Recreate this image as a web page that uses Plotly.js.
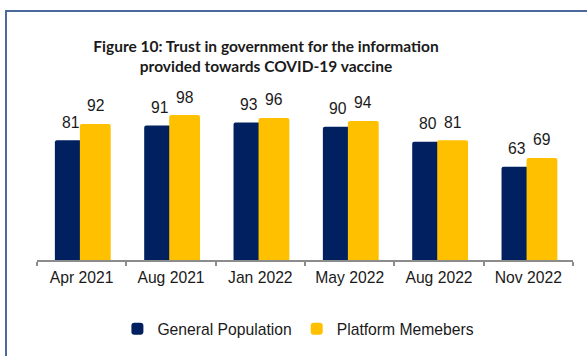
<!DOCTYPE html>
<html>
<head>
<meta charset="utf-8">
<script src="https://cdn.plot.ly/plotly-3.0.1.min.js"></script>
<style>
  html, body { margin: 0; padding: 0; background: #fff; }
  #chart { position: absolute; left: 0; top: 0; width: 587px; height: 356px; }
  #frame { position: absolute; left: 5px; top: 10px; width: 600px; height: 400px;
           border-left: 2px solid #4a6a9c; border-top: 2px solid #4a6a9c; pointer-events: none; }
</style>
</head>
<body>
<div id="chart"></div>
<div id="frame"></div>
<script>
const categories = ['Apr 2021', 'Aug 2021', 'Jan 2022', 'May 2022', 'Aug 2022', 'Nov 2022'];
const generalPopulation = [81, 91, 93, 90, 80, 63];
const platformMembers = [92, 98, 96, 94, 81, 69];
const seriesNames = ['General Population', 'Platform Memebers'];
const titleText = '<b>Figure 10: Trust in government for the information<br>provided towards COVID-19 vaccine</b>';

const NAVY = '#002060', GOLD = '#FFC000';
const barWidth = 0.345, navyOffset = -0.30, goldOffset = -0.02;
const labelFont = { family: 'Liberation Sans, Arial, sans-serif', size: 15.7, color: '#1a1a1a' };

const traces = [
  { type: 'bar', name: seriesNames[0], x: categories, y: generalPopulation,
    width: barWidth, offset: navyOffset, marker: { color: NAVY, cornerradius: 2 }, hoverinfo: 'none' },
  { type: 'bar', name: seriesNames[1], x: categories, y: platformMembers,
    width: barWidth, offset: goldOffset, marker: { color: GOLD, cornerradius: 2 }, hoverinfo: 'none' }
];

const annotations = [];
categories.forEach((c, i) => {
  annotations.push({ x: i + navyOffset + barWidth / 2, y: generalPopulation[i], xref: 'x', yref: 'y',
    text: String(generalPopulation[i]), showarrow: false, yanchor: 'middle', yshift: 18, font: labelFont });
  annotations.push({ x: i + goldOffset + barWidth / 2, y: platformMembers[i], xref: 'x', yref: 'y',
    text: String(platformMembers[i]), showarrow: false, yanchor: 'middle', yshift: 18, font: labelFont });
});

const layout = {
  width: 587, height: 356,
  margin: { l: 37, r: 14, t: 110, b: 96, pad: 0 },
  paper_bgcolor: 'rgba(0,0,0,0)', plot_bgcolor: 'rgba(0,0,0,0)',
  barmode: 'overlay',
  title: { text: titleText, xref: 'container', yref: 'container', x: 0.4532, xanchor: 'center',
           y: 0.855, yanchor: 'middle',
           font: { family: 'Lato, Calibri, sans-serif', size: 15.5, color: '#1a1a1a' } },
  xaxis: { type: 'category', range: [-0.5, 5.5], showline: true, linecolor: '#8c8c8c', linewidth: 2,
           ticks: 'outside', tickson: 'boundaries', ticklen: 4, tickcolor: '#8c8c8c', tickwidth: 2,
           ticklabelstandoff: 2,
           showgrid: false, zeroline: false, fixedrange: true,
           tickfont: labelFont },
  yaxis: { range: [0, 101.4], visible: false, showgrid: false, zeroline: false, fixedrange: true },
  showlegend: true,
  legend: { orientation: 'h', xref: 'container', yref: 'container', x: 0.2, xanchor: 'left',
            y: 0.076, yanchor: 'middle', font: labelFont, itemclick: false, itemdoubleclick: false,
            bgcolor: 'rgba(0,0,0,0)' },
  annotations: annotations
};

Plotly.newPlot('chart', traces, layout, { displayModeBar: false, staticPlot: true });
</script>
</body>
</html>
